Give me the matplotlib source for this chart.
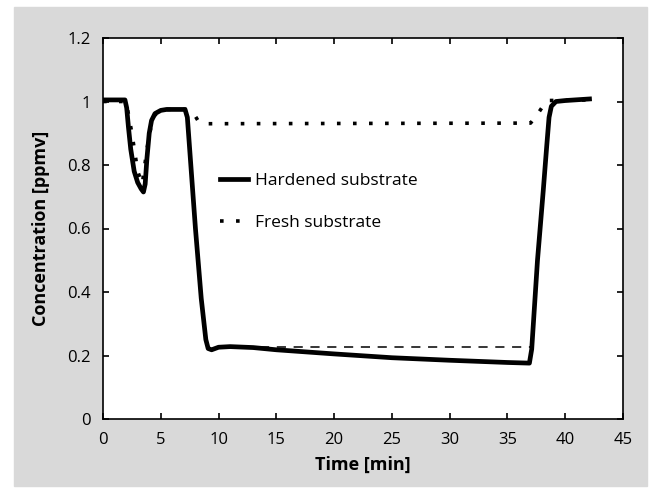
import matplotlib
matplotlib.use('Agg')
import matplotlib.pyplot as plt
from matplotlib.patches import Rectangle
from matplotlib.ticker import FormatStrFormatter

plt.rcParams['font.family'] = ['Open Sans', 'DejaVu Sans']

# Hardened substrate (solid line)
hard_time = [0, 1.9, 2.05, 2.2, 2.4, 2.7, 3.0, 3.3, 3.5, 3.65, 3.8, 4.0, 4.2, 4.5, 5.0,
             5.5, 7.1, 7.3, 7.6, 8.0, 8.5, 8.9, 9.1, 9.4, 10, 11, 13, 15, 20, 25, 30,
             35, 36.9, 37.1, 37.6, 38.1, 38.4, 38.6, 38.8, 39.2, 40, 42.1]
hard_conc = [1.005, 1.005, 0.98, 0.92, 0.85, 0.78, 0.745, 0.725, 0.715, 0.74, 0.82, 0.9,
             0.94, 0.962, 0.972, 0.975, 0.975, 0.95, 0.8, 0.6, 0.38, 0.25, 0.222, 0.218,
             0.226, 0.228, 0.225, 0.218, 0.205, 0.193, 0.185, 0.178, 0.176, 0.22, 0.5,
             0.72, 0.86, 0.95, 0.985, 1.0, 1.003, 1.008]

# Fresh substrate (dotted line)
fresh_time = [0, 2.0, 2.5, 3.0, 3.4, 3.8, 4.3, 5, 7.3, 7.8, 8.3, 9, 37.0, 37.6, 38.4, 42]
fresh_conc = [1.0, 1.0, 0.9, 0.78, 0.74, 0.85, 0.95, 0.975, 0.975, 0.965, 0.935, 0.93,
              0.932, 0.96, 1.003, 1.005]

# reference level (dashed line)
ref_time = [13.6, 37.0]
ref_conc = [0.227, 0.227]

fig = plt.figure(figsize=(6.58, 4.92), dpi=100)
fig.patches.append(Rectangle((14 / 658, 1 - 486 / 492), 633 / 658, 479 / 492,
                             transform=fig.transFigure, color='#d9d9d9', zorder=-10))
ax = fig.add_axes([103 / 658, 1 - 419 / 492, 520 / 658, 381 / 492])
ax.set_facecolor('white')

ax.plot(hard_time, hard_conc, color='black', lw=3.4, label='Hardened substrate', zorder=3)
ax.plot(fresh_time, fresh_conc, color='black', lw=2.6, linestyle=(0, (1, 3.44)),
        label='Fresh substrate', zorder=2)
ax.plot(ref_time, ref_conc, color='black', lw=1.1, linestyle=(0, (6, 5)), zorder=2)

ax.set_xlim(0, 45)
ax.set_ylim(0, 1.2)
ax.set_xticks(range(0, 46, 5))
ax.set_yticks([0, 0.2, 0.4, 0.6, 0.8, 1.0, 1.2])
ax.yaxis.set_major_formatter(FormatStrFormatter('%g'))
ax.tick_params(direction='in', length=4, width=1.2, top=True, right=True,
               labelsize=12, pad=9)
for s in ax.spines.values():
    s.set_linewidth(1.2)

ax.set_xlabel('Time [min]', fontsize=13, fontweight='bold', labelpad=6)
ax.set_ylabel('Concentration [ppmv]', fontsize=13, fontweight='bold', labelpad=12)

ax.legend(loc='upper left', bbox_to_anchor=(0.194, 0.687), frameon=False, fontsize=12.5,
          handlelength=1.67, handletextpad=0.35, labelspacing=1.48)

fig.savefig('out.png', dpi=100)
